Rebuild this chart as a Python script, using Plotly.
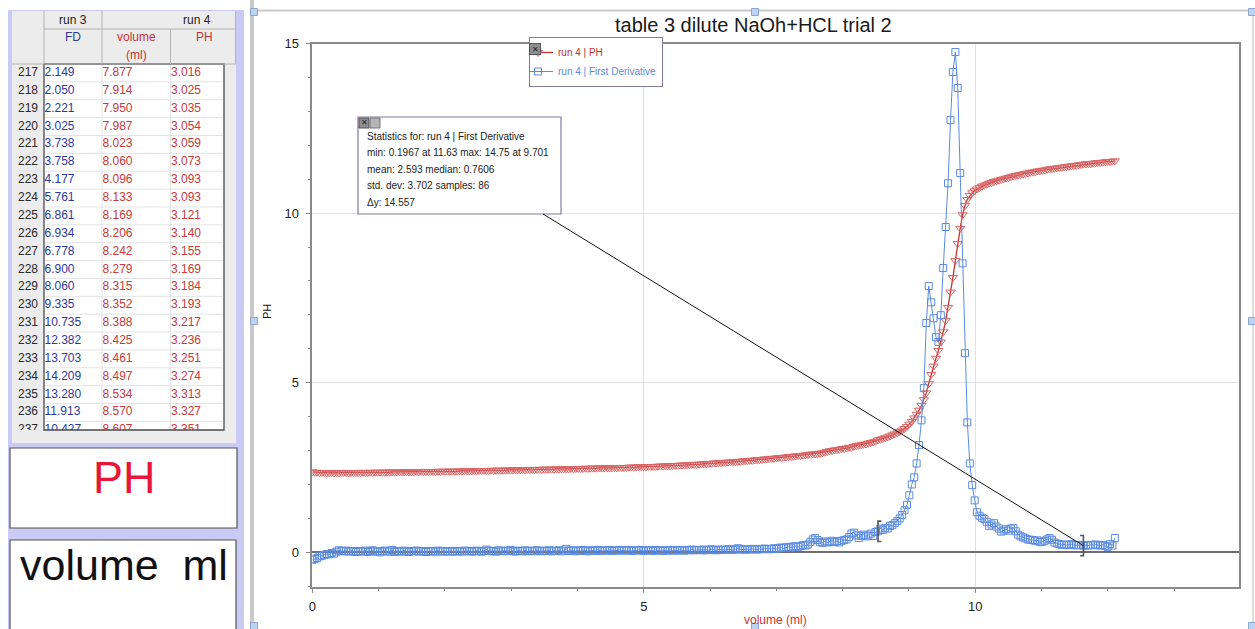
import plotly.graph_objects as go

W, H = 1255, 629
FONT = "Liberation Sans, Arial, Helvetica, sans-serif"

# ---------------- data (run 4) ----------------
volume = [
    0.000, 0.036, 0.073, 0.109, 0.146, 0.182, 0.219, 0.255, 0.292, 0.328,
    0.365, 0.401, 0.438, 0.474, 0.511, 0.547, 0.584, 0.620, 0.657, 0.693,
    0.729, 0.765, 0.802, 0.838, 0.875, 0.911, 0.948, 0.984, 1.021, 1.057,
    1.094, 1.130, 1.167, 1.203, 1.240, 1.276, 1.313, 1.349, 1.386, 1.422,
    1.459, 1.495, 1.532, 1.568, 1.605, 1.641, 1.678, 1.714, 1.751, 1.787,
    1.823, 1.859, 1.896, 1.932, 1.969, 2.005, 2.042, 2.078, 2.115, 2.151,
    2.188, 2.224, 2.261, 2.297, 2.334, 2.370, 2.407, 2.443, 2.480, 2.516,
    2.553, 2.589, 2.626, 2.662, 2.699, 2.735, 2.772, 2.808, 2.845, 2.881,
    2.917, 2.953, 2.990, 3.026, 3.063, 3.099, 3.136, 3.172, 3.209, 3.245,
    3.282, 3.318, 3.355, 3.391, 3.428, 3.464, 3.501, 3.537, 3.574, 3.610,
    3.647, 3.683, 3.720, 3.756, 3.793, 3.829, 3.866, 3.902, 3.939, 3.975,
    4.011, 4.047, 4.084, 4.120, 4.157, 4.193, 4.230, 4.266, 4.303, 4.339,
    4.376, 4.412, 4.449, 4.485, 4.522, 4.558, 4.595, 4.631, 4.668, 4.704,
    4.741, 4.777, 4.814, 4.850, 4.887, 4.923, 4.960, 4.996, 5.033, 5.069,
    5.106, 5.142, 5.179, 5.215, 5.252, 5.288, 5.325, 5.361, 5.398, 5.434,
    5.470, 5.506, 5.543, 5.579, 5.616, 5.652, 5.689, 5.725, 5.762, 5.798,
    5.835, 5.871, 5.908, 5.944, 5.981, 6.017, 6.054, 6.090, 6.127, 6.163,
    6.200, 6.236, 6.273, 6.309, 6.346, 6.382, 6.419, 6.455, 6.492, 6.528,
    6.564, 6.600, 6.637, 6.673, 6.710, 6.746, 6.783, 6.819, 6.856, 6.892,
    6.929, 6.965, 7.002, 7.038, 7.075, 7.111, 7.148, 7.184, 7.221, 7.257,
    7.294, 7.330, 7.367, 7.403, 7.440, 7.476, 7.513, 7.549, 7.586, 7.622,
    7.658, 7.694, 7.731, 7.767, 7.804, 7.840, 7.877, 7.914, 7.950, 7.987,
    8.023, 8.060, 8.096, 8.133, 8.169, 8.206, 8.242, 8.279, 8.315, 8.352,
    8.388, 8.425, 8.461, 8.497, 8.534, 8.570, 8.607, 8.643, 8.680, 8.716,
    8.752, 8.788, 8.825, 8.861, 8.898, 8.934, 8.971, 9.007, 9.044, 9.080,
    9.117, 9.153, 9.190, 9.226, 9.263, 9.299, 9.336, 9.372, 9.409, 9.445,
    9.482, 9.518, 9.555, 9.591, 9.628, 9.664, 9.701, 9.737, 9.774, 9.810,
    9.846, 9.882, 9.919, 9.955, 9.992, 10.028, 10.065, 10.101, 10.138, 10.174,
    10.211, 10.247, 10.284, 10.320, 10.357, 10.393, 10.430, 10.466, 10.503, 10.539,
    10.576, 10.612, 10.649, 10.685, 10.722, 10.758, 10.795, 10.831, 10.868, 10.904,
    10.940, 10.976, 11.013, 11.049, 11.086, 11.122, 11.159, 11.195, 11.232, 11.268,
    11.305, 11.341, 11.378, 11.414, 11.451, 11.487, 11.524, 11.560, 11.597, 11.633,
    11.670, 11.706, 11.743, 11.779, 11.816, 11.852, 11.889, 11.925, 11.962, 11.998,
    12.034, 12.070, 12.107,
]

ph = [
    2.37, 2.36, 2.36, 2.35, 2.35, 2.35, 2.34, 2.34, 2.35, 2.34,
    2.35, 2.34, 2.35, 2.35, 2.35, 2.34, 2.35, 2.35, 2.35, 2.35,
    2.35, 2.36, 2.35, 2.35, 2.36, 2.35, 2.36, 2.36, 2.36, 2.36,
    2.36, 2.36, 2.36, 2.37, 2.36, 2.37, 2.37, 2.37, 2.37, 2.37,
    2.37, 2.37, 2.37, 2.38, 2.37, 2.38, 2.38, 2.38, 2.38, 2.38,
    2.38, 2.38, 2.39, 2.38, 2.39, 2.39, 2.39, 2.39, 2.39, 2.39,
    2.39, 2.40, 2.39, 2.40, 2.40, 2.40, 2.40, 2.41, 2.40, 2.41,
    2.41, 2.41, 2.41, 2.41, 2.42, 2.41, 2.42, 2.42, 2.42, 2.42,
    2.42, 2.43, 2.42, 2.43, 2.43, 2.43, 2.43, 2.44, 2.43, 2.44,
    2.44, 2.44, 2.44, 2.44, 2.45, 2.44, 2.45, 2.45, 2.45, 2.45,
    2.45, 2.46, 2.45, 2.46, 2.46, 2.46, 2.46, 2.47, 2.46, 2.47,
    2.47, 2.47, 2.47, 2.48, 2.47, 2.48, 2.48, 2.48, 2.48, 2.49,
    2.48, 2.49, 2.49, 2.49, 2.49, 2.50, 2.49, 2.50, 2.50, 2.50,
    2.50, 2.51, 2.51, 2.51, 2.51, 2.52, 2.52, 2.52, 2.52, 2.53,
    2.53, 2.53, 2.53, 2.54, 2.54, 2.54, 2.55, 2.55, 2.55, 2.56,
    2.56, 2.56, 2.57, 2.57, 2.57, 2.58, 2.58, 2.59, 2.59, 2.59,
    2.60, 2.60, 2.61, 2.61, 2.62, 2.62, 2.63, 2.63, 2.64, 2.64,
    2.65, 2.65, 2.66, 2.66, 2.67, 2.67, 2.68, 2.68, 2.69, 2.70,
    2.70, 2.71, 2.71, 2.72, 2.73, 2.73, 2.74, 2.75, 2.75, 2.76,
    2.77, 2.77, 2.78, 2.79, 2.79, 2.80, 2.81, 2.82, 2.82, 2.83,
    2.84, 2.85, 2.85, 2.86, 2.87, 2.88, 2.89, 2.90, 2.90, 2.91,
    2.92, 2.93, 2.95, 2.97, 2.99, 3.00, 3.016, 3.025, 3.035, 3.054,
    3.059, 3.073, 3.093, 3.093, 3.121, 3.140, 3.155, 3.169, 3.184, 3.193,
    3.217, 3.236, 3.251, 3.274, 3.313, 3.327, 3.351, 3.375, 3.40, 3.43,
    3.46, 3.49, 3.52, 3.56, 3.60, 3.65, 3.71, 3.78, 3.86, 3.96,
    4.07, 4.19, 4.33, 4.50, 4.70, 4.97, 5.24, 5.49, 5.72, 5.95,
    6.20, 6.50, 6.83, 7.22, 7.67, 8.10, 8.60, 9.10, 9.55, 9.95,
    10.22, 10.40, 10.52, 10.60, 10.66, 10.71, 10.75, 10.79, 10.82, 10.85,
    10.88, 10.90, 10.93, 10.95, 10.97, 10.99, 11.01, 11.03, 11.05, 11.07,
    11.09, 11.11, 11.12, 11.14, 11.15, 11.17, 11.18, 11.20, 11.21, 11.22,
    11.24, 11.25, 11.26, 11.27, 11.29, 11.30, 11.31, 11.32, 11.33, 11.34,
    11.35, 11.36, 11.37, 11.38, 11.39, 11.40, 11.41, 11.42, 11.43, 11.44,
    11.45, 11.46, 11.46, 11.47, 11.48, 11.49, 11.49, 11.50, 11.51, 11.52,
    11.52, 11.53, 11.54,
]

first_derivative = [
    -0.22, -0.20, -0.17, -0.12, -0.10, -0.08, -0.05, -0.06, -0.02, -0.04,
    0.02, 0.06, 0.04, 0.03, 0.05, 0.02, 0.04, 0.03, 0.01, 0.04,
    0.03, 0.02, 0.05, 0.01, 0.04, 0.06, 0.02, 0.03, 0.00, 0.04,
    0.05, 0.02, 0.03, 0.07, 0.01, 0.04, 0.03, 0.02, 0.05, 0.03,
    0.01, 0.04, 0.03, 0.05, 0.02, 0.04, 0.03, 0.01, 0.03, 0.04,
    0.02, 0.03, 0.05, 0.02, 0.04, 0.03, 0.02, 0.04, 0.03, 0.02,
    0.04, 0.03, 0.02, 0.05, 0.03, 0.04, 0.02, 0.03, 0.05, 0.03,
    0.02, 0.04, 0.08, 0.05, 0.03, 0.04, 0.02, 0.06, 0.03, 0.04,
    0.05, 0.03, 0.07, 0.04, 0.02, 0.05, 0.04, 0.03, 0.06, 0.03,
    0.04, 0.05, 0.03, 0.06, 0.04, 0.03, 0.05, 0.04, 0.06, 0.03,
    0.05, 0.04, 0.06, 0.03, 0.05, 0.10, 0.04, 0.06, 0.05, 0.03,
    0.06, 0.04, 0.07, 0.05, 0.03, 0.06, 0.05, 0.04, 0.07, 0.05,
    0.04, 0.06, 0.05, 0.07, 0.04, 0.06, 0.05, 0.07, 0.05, 0.06,
    0.05, 0.07, 0.04, 0.06, 0.05, 0.07, 0.06, 0.04, 0.06, 0.05,
    0.06, 0.04, 0.07, 0.05, 0.06, 0.04, 0.06, 0.05, 0.07, 0.05,
    0.06, 0.05, 0.07, 0.06, 0.05, 0.07, 0.06, 0.08, 0.06, 0.07,
    0.07, 0.06, 0.08, 0.06, 0.07, 0.09, 0.07, 0.06, 0.08, 0.07,
    0.08, 0.07, 0.09, 0.08, 0.07, 0.09, 0.12, 0.08, 0.09, 0.08,
    0.09, 0.08, 0.10, 0.09, 0.08, 0.10, 0.09, 0.11, 0.10, 0.09,
    0.10, 0.12, 0.10, 0.13, 0.14, 0.12, 0.15, 0.16, 0.14, 0.17,
    0.18, 0.16, 0.19, 0.21, 0.20, 0.23, 0.30, 0.38, 0.42, 0.36,
    0.30, 0.28, 0.32, 0.29, 0.31, 0.34, 0.30, 0.33, 0.29, 0.34,
    0.36, 0.38, 0.45, 0.55, 0.58, 0.50, 0.42, 0.48, 0.52, 0.47,
    0.50, 0.55, 0.48, 0.60, 0.62, 0.70, 0.66, 0.72, 0.70, 0.78,
    0.80, 0.86, 0.92, 1.00, 1.10, 1.24, 1.40, 1.68, 2.00, 2.21,
    2.62, 3.16, 3.89, 4.84, 6.76, 7.85, 7.37, 6.90, 6.34, 6.20,
    6.99, 8.38, 9.59, 10.88, 12.74, 14.16, 14.75, 13.69, 11.18, 8.52,
    5.87, 3.83, 2.62, 1.98, 1.53, 1.18, 1.08, 1.02, 0.98, 0.90,
    0.78, 0.82, 0.86, 0.76, 0.70, 0.61, 0.64, 0.68, 0.64, 0.70,
    0.72, 0.62, 0.52, 0.47, 0.44, 0.41, 0.38, 0.37, 0.36, 0.34,
    0.35, 0.30, 0.31, 0.34, 0.38, 0.42, 0.37, 0.29, 0.26, 0.24,
    0.22, 0.23, 0.21, 0.22, 0.24, 0.21, 0.21, 0.22, 0.21, 0.1967,
    0.21, 0.20, 0.22, 0.21, 0.23, 0.21, 0.20, 0.22, 0.19, 0.16,
    0.24, 0.20, 0.42,
]

# data table (left panel)
table_rows = [217, 218, 219, 220, 221, 222, 223, 224, 225, 226, 227,
              228, 229, 230, 231, 232, 233, 234, 235, 236, 237]
run3_fd = [2.149, 2.050, 2.221, 3.025, 3.738, 3.758, 4.177, 5.761, 6.861,
           6.934, 6.778, 6.900, 8.060, 9.335, 10.735, 12.382, 13.703,
           14.209, 13.280, 11.913, 10.427]
table_first_index = 216          # row 217 of the table = sample index 216
table_vol = volume[table_first_index:table_first_index + len(table_rows)]
table_ph = ph[table_first_index:table_first_index + len(table_rows)]

sel_start, sel_end = 234, 319    # statistics selection (86 samples)

title_text = "table 3 dilute NaOh+HCL trial 2"
x_label = "volume (ml)"
y_label = "PH"
legend_names = ["run 4 | PH", "run 4 | First Derivative"]
stats_lines = [
    "Statistics for: run 4 | First Derivative",
    "min: 0.1967 at 11.63 max: 14.75 at 9.701",
    "mean: 2.593 median: 0.7606",
    "std. dev: 3.702 samples: 86",
    "\u0394y: 14.557",
]
x_tickvals = [0, 5, 10]
y_tickvals = [0, 5, 10, 15]

RED = "#c23434"
RED_MK = "#dc6464"
BLUE = "#5a8be2"
NAVY = "#2b3a9c"

# ---------------- geometry helpers ----------------
def px(x):
    return x / W

def py(y):
    return 1 - y / H

X0p, X1p, XR = 312.3, 1239.0, [0, 13.98]
Y0p, Y1p, YR = 586.7, 43.5, [-1.014, 15.0]

def dx(p):
    return XR[0] + (p - X0p) / (X1p - X0p) * (XR[1] - XR[0])

def dy(p):
    return YR[0] + (Y0p - p) / (Y0p - Y1p) * (YR[1] - YR[0])

shapes = []

def rect(x0, y0, x1, y1, fill=None, line=None, lw=1, layer="below"):
    shapes.append(dict(type="rect", xref="paper", yref="paper",
                       x0=px(x0), x1=px(x1), y0=py(y1), y1=py(y0),
                       fillcolor=fill or "rgba(0,0,0,0)",
                       line=dict(color=line or "rgba(0,0,0,0)", width=lw if line else 0),
                       layer=layer))

def hline(x0, x1, y, color, lw=1, layer="below"):
    shapes.append(dict(type="line", xref="paper", yref="paper",
                       x0=px(x0), x1=px(x1), y0=py(y), y1=py(y),
                       line=dict(color=color, width=lw), layer=layer))

def vline(x, y0, y1, color, lw=1, layer="below"):
    shapes.append(dict(type="line", xref="paper", yref="paper",
                       x0=px(x), x1=px(x), y0=py(y0), y1=py(y1),
                       line=dict(color=color, width=lw), layer=layer))

annotations = []

def text(x, y, s, size=12, color="#222", xanchor="center", angle=0, **kw):
    annotations.append(dict(x=px(x), y=py(y), xref="paper", yref="paper", text=s,
                            showarrow=False, xanchor=xanchor, yanchor="middle",
                            textangle=angle,
                            font=dict(family=FONT, size=size, color=color), **kw))

# ---------------- left panel ----------------
ROW_H = 17.87
rect(8, 10, 244, 629, fill="#cacaf5")
rect(12, 11, 236, 443, fill="#ececec")
rect(44, 64, 224, 430, fill="white")
for i in range(1, 21):
    hline(45, 223, 64 + i * ROW_H, "#e3e3e3")
vline(102, 64, 430, "#e3e3e3")
vline(170.5, 64, 430, "#e3e3e3")
rect(44, 64, 224, 430, line="#4a4a4a", lw=1.3)
vline(44, 11, 64, "#b4b4b4")
vline(102, 11, 64, "#b4b4b4")
vline(170.5, 29, 64, "#b4b4b4")
vline(235.5, 11, 64, "#b4b4b4")
hline(44, 236, 29, "#b4b4b4")
hline(12, 236, 64, "#b4b4b4")
rect(10, 448, 237, 528, fill="white", line="#555555", lw=1.2)
rect(10, 540, 236, 640, fill="white", line="#555555", lw=1.2)

text(73, 20, "run 3", 12, "#222")
text(197, 20, "run 4", 12, "#222")
text(73, 37, "FD", 12, NAVY)
text(136, 37, "volume", 12, RED)
text(136, 55, "(ml)", 12, RED)
text(204, 37, "PH", 12, RED)
text(124, 477, "PH", 45, "#e8173a")
text(124, 565, "volume\u00a0 ml", 43, "#111")

# ---------------- graph panel frame ----------------
rect(250, 0, 254, 629, fill="#c8c8c8")
hline(254, 1253, 10.5, "#cacaca", 2)
vline(1253, 10, 629, "#d2d2d2", 1.5)

# statistics box
rect(358, 117, 561, 214, fill="white", line="#7c7ca6", lw=1.2, layer="above")
rect(359, 118, 369, 128, fill="#8e8e8e", line="#555", lw=1, layer="above")
rect(370, 118, 380, 128, fill="#b4b4b4", line="#777", lw=1, layer="above")
text(364, 123, "\u2715", 8, "#222")
for s, yy in zip(stats_lines, [136, 152.5, 169, 185.5, 202.5]):
    text(365, yy, s, 10, "#222", xanchor="left")

# connector from the stats box to the selection end, brackets of selection
shapes.append(dict(type="line", xref="x", yref="y",
                   x0=dx(543), y0=dy(214),
                   x1=volume[sel_end], y1=first_derivative[sel_end],
                   line=dict(color="#111", width=1), layer="above"))
bx0, by0 = volume[sel_start], first_derivative[sel_start]
bx1, by1 = volume[sel_end], first_derivative[sel_end]
shapes.append(dict(type="path", xref="x", yref="y",
                   path=f"M {bx0+0.05},{by0+0.3} L {bx0},{by0+0.3} L {bx0},{by0-0.3} L {bx0+0.05},{by0-0.3}",
                   line=dict(color="#555", width=1.6), layer="above"))
shapes.append(dict(type="path", xref="x", yref="y",
                   path=f"M {bx1-0.05},{by1+0.3} L {bx1},{by1+0.3} L {bx1},{by1-0.3} L {bx1-0.05},{by1-0.3}",
                   line=dict(color="#555", width=1.6), layer="above"))

# selection handles
for cx, cy in [(254, 12), (755, 12), (1252, 12), (254, 321), (1252, 321),
               (254, 626), (755, 627), (1252, 626)]:
    rect(cx - 3.5, cy - 3.5, cx + 3.5, cy + 3.5, fill="#bcd4f2", line="#8ca8d0", lw=1, layer="above")

# titles
text(753, 25, title_text, 20, "#1a1a1a")
text(267, 312, y_label, 11, "#111", angle=-90)
text(775, 620, x_label, 12, "#cc3333")

# legend close icon
annotations.append(dict(x=px(534.5), y=py(43), xref="paper", yref="paper", text="\u2715",
                        showarrow=False, bgcolor="#8e8e8e", bordercolor="#555", borderwidth=1,
                        borderpad=0, width=10, height=10,
                        font=dict(family=FONT, size=8, color="#222")))

# ---------------- traces ----------------
fig = go.Figure()
fig.add_trace(go.Scatter(
    x=volume, y=ph, mode="lines+markers",
    name=f'<span style="color:{RED}">{legend_names[0]}</span>',
    line=dict(color=RED, width=1.3),
    marker=dict(symbol="triangle-down-open", size=8, color=RED_MK, line=dict(width=1)),
))
fig.add_trace(go.Scatter(
    x=volume, y=first_derivative, mode="lines+markers",
    name=f'<span style="color:{BLUE}">{legend_names[1]}</span>',
    line=dict(color=BLUE, width=1),
    marker=dict(symbol="square-open", size=7, color=BLUE, line=dict(width=1)),
))

rows_idx = list(range(len(table_rows)))
tcols = [
    (38, [str(r) for r in table_rows], "middle left", "#2a2a2a"),
    (44.5, [f"{v:.3f}" for v in run3_fd], "middle right", NAVY),
    (102.5, [f"{v:.3f}" for v in table_vol], "middle right", "#c93a3a"),
    (171, [f"{v:.3f}" for v in table_ph], "middle right", "#c93a3a"),
]
for xc, labels, pos, col in tcols:
    fig.add_trace(go.Scatter(
        x=[xc] * len(labels), y=rows_idx, text=labels, mode="text",
        textposition=pos, textfont=dict(family=FONT, size=12, color=col),
        xaxis="x2", yaxis="y2", showlegend=False, hoverinfo="skip", cliponaxis=True,
    ))

axis_common = dict(
    showline=True, linecolor="#8a8a8a", linewidth=1.5, mirror=True,
    showgrid=True, gridcolor="#e2e2e2", gridwidth=1,
    ticks="outside", ticklen=5, tickcolor="#8a8a8a",
    tickfont=dict(family=FONT, size=13, color="#222"),
    minor=dict(dtick=1, ticks="outside", ticklen=3, tickcolor="#8a8a8a", showgrid=False),
    fixedrange=True,
)

fig.update_layout(
    width=W, height=H,
    margin=dict(l=0, r=0, t=0, b=0, autoexpand=False),
    paper_bgcolor="white", plot_bgcolor="rgba(0,0,0,0)",
    font=dict(family=FONT),
    hovermode=False,
    xaxis=dict(domain=[px(X0p), px(X1p)], range=XR, tickvals=x_tickvals,
               zeroline=False, ticklabelstandoff=2, **axis_common),
    yaxis=dict(domain=[py(Y0p), py(Y1p)], range=YR, tickvals=y_tickvals,
               zeroline=True, zerolinecolor="#6e6e6e", zerolinewidth=1.5,
               ticklabelstandoff=4, **axis_common),
    xaxis2=dict(domain=[px(12), px(224)], range=[12, 224], visible=False,
                anchor="y2", fixedrange=True),
    yaxis2=dict(domain=[py(430), py(64)], range=[-0.5 + 366 / ROW_H, -0.5],
                visible=False, anchor="x2", fixedrange=True),
    legend=dict(x=px(529), y=py(37), xanchor="left", yanchor="top",
                bgcolor="white", bordercolor="#7c7ca6", borderwidth=1,
                font=dict(family=FONT, size=10, color="#222"),
                itemwidth=30, tracegroupgap=0, indentation=-12),
    shapes=shapes,
    annotations=annotations,
)

fig.write_html("out.html", config={"displayModeBar": False},
               post_script="document.body.style.margin='0';document.body.style.overflow='hidden';")
